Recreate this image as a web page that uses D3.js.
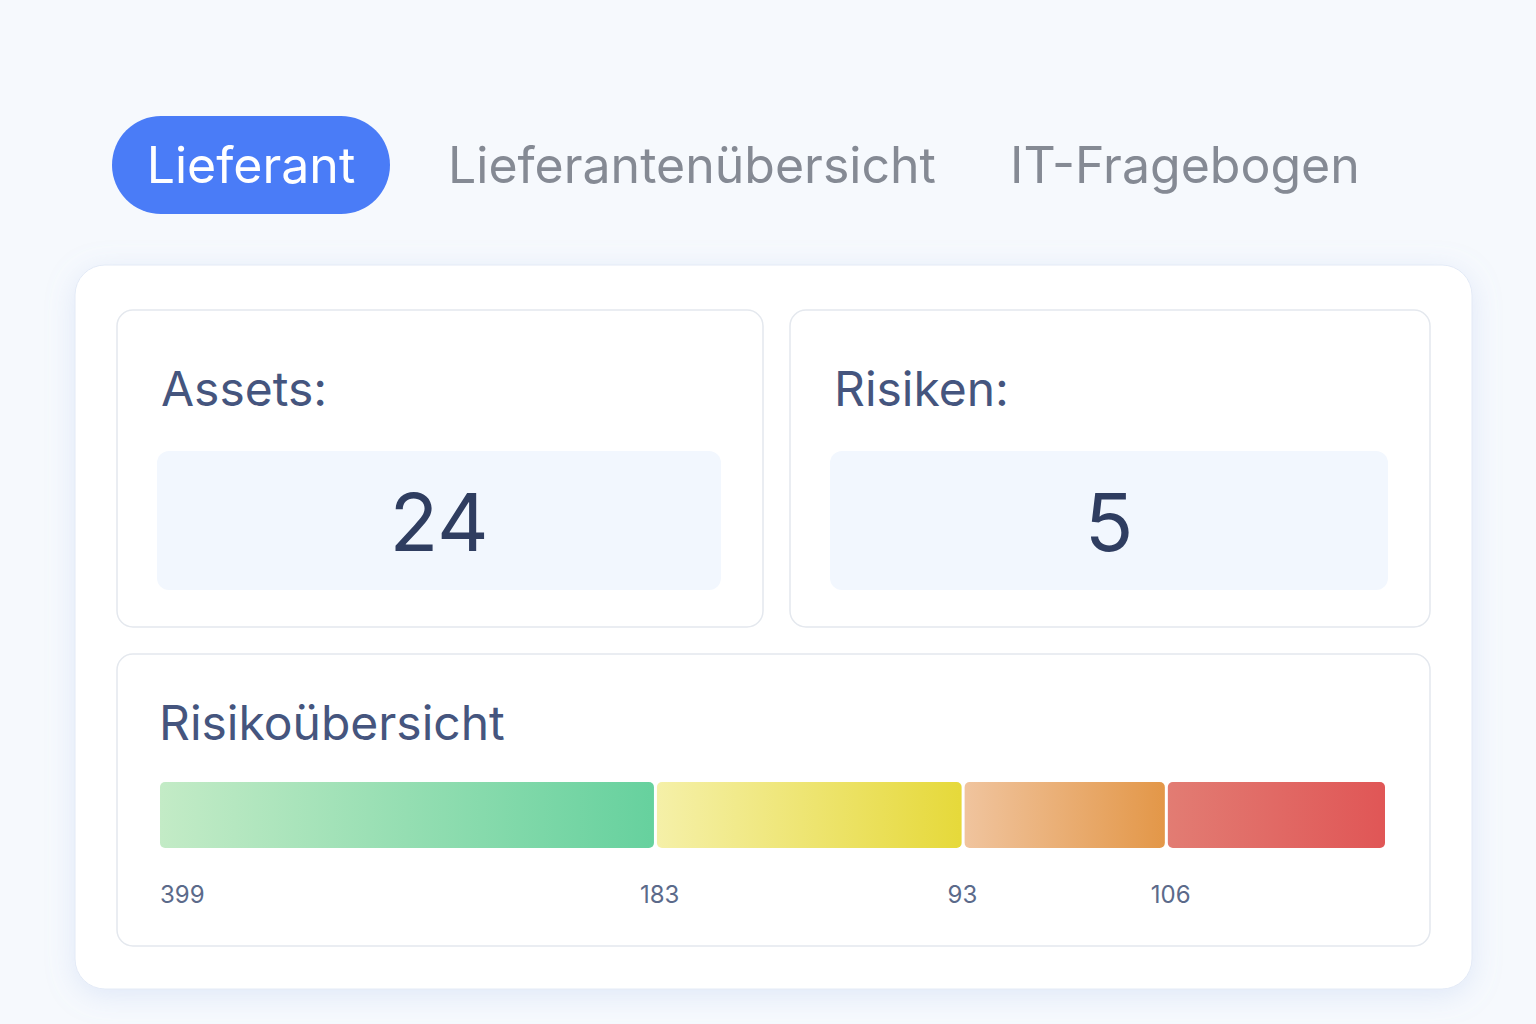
<!DOCTYPE html>
<html><head><meta charset="utf-8">
<script src="https://cdn.jsdelivr.net/npm/d3@7"></script>
<style>body{margin:0;background:#f6f9fd;font-family:Inter,"Noto Sans",sans-serif}</style>
</head><body>
<svg id="c" width="1536" height="1024"></svg>
<script>
// tabs and KPI values
const tabs = ["Lieferant", "Lieferantenübersicht", "IT-Fragebogen"];
const kpiLabels = ["Assets:", "Risiken:"];
const kpiValues = [24, 5];
// risk overview segments
const riskValues = [399, 183, 93, 106];
const riskColors = [["#c3ebc6", "#66d19e"], ["#f5f0a8", "#e6d93a"], ["#f0c49e", "#e39748"], ["#e27c73", "#e05656"]];

const svg = d3.select("#c");
const defs = svg.append("defs");
const f = defs.append("filter").attr("id", "sh").attr("x", "-10%").attr("y", "-10%").attr("width", "120%").attr("height", "130%");
f.append("feDropShadow").attr("dx", 0).attr("dy", 6).attr("stdDeviation", 14).attr("flood-color", "#9bb4e8").attr("flood-opacity", 0.25);

// tabs
const tabX = [112, 448, 1010];
svg.append("rect").attr("x", 112).attr("y", 116).attr("width", 278).attr("height", 98).attr("rx", 49).attr("fill", "#4a7cf7");
tabs.forEach((t, i) => {
  svg.append("text").attr("x", i === 0 ? 251 : tabX[i]).attr("y", 183)
    .attr("text-anchor", i === 0 ? "middle" : "start")
    .attr("font-size", 50).attr("fill", i === 0 ? "#fff" : "#858a94").text(t);
});

// main card
svg.append("rect").attr("x", 75).attr("y", 265).attr("width", 1397).attr("height", 724).attr("rx", 30)
  .attr("fill", "#fff").attr("stroke", "#e3eaf6").attr("filter", "url(#sh)");

// KPI cards
const kx = [117, 790], kw = [646, 640], ix = [157, 830], iw = [564, 558];
kpiLabels.forEach((l, i) => {
  svg.append("rect").attr("x", kx[i]).attr("y", 310).attr("width", kw[i]).attr("height", 317).attr("rx", 16)
    .attr("fill", "#fff").attr("stroke", "#e4e8ee").attr("stroke-width", 1.5);
  svg.append("text").attr("x", ix[i] + 4).attr("y", 406).attr("font-size", 48).attr("fill", "#45557e").text(l);
  svg.append("rect").attr("x", ix[i]).attr("y", 451).attr("width", iw[i]).attr("height", 139).attr("rx", 12).attr("fill", "#f2f7fe");
  svg.append("text").attr("x", ix[i] + iw[i] / 2).attr("y", 551).attr("text-anchor", "middle")
    .attr("font-size", 80).attr("fill", "#2f3d60").text(kpiValues[i]);
});

// risk card
svg.append("rect").attr("x", 117).attr("y", 654).attr("width", 1313).attr("height", 292).attr("rx", 16)
  .attr("fill", "#fff").attr("stroke", "#e4e8ee").attr("stroke-width", 1.5);
svg.append("text").attr("x", 159).attr("y", 740).attr("font-size", 48).attr("fill", "#45557e").text("Risikoübersicht");

const gap = 3;
const w = d3.scalePow().exponent(0.62).domain([0, 1]).range([0, 1]);
const weights = riskValues.map(v => w(v));
const total = d3.sum(weights);
const x = d3.scaleLinear().domain([0, total]).range([160, 1385 - gap * (riskValues.length - 1)]);
let acc = 0;
riskValues.forEach((v, i) => {
  const g = defs.append("linearGradient").attr("id", "g" + i);
  g.append("stop").attr("offset", "0%").attr("stop-color", riskColors[i][0]);
  g.append("stop").attr("offset", "100%").attr("stop-color", riskColors[i][1]);
  const x0 = x(acc) + gap * i, x1 = x(acc + weights[i]) + gap * i;
  svg.append("rect").attr("x", x0).attr("y", 782).attr("width", x1 - x0).attr("height", 66).attr("rx", 5).attr("fill", `url(#g${i})`);
  svg.append("text").attr("x", i === 0 ? x0 : x0 - 17).attr("y", 903).attr("font-size", 24).attr("fill", "#5b6a8a").text(v);
  acc += weights[i];
});
</script>
</body></html>
